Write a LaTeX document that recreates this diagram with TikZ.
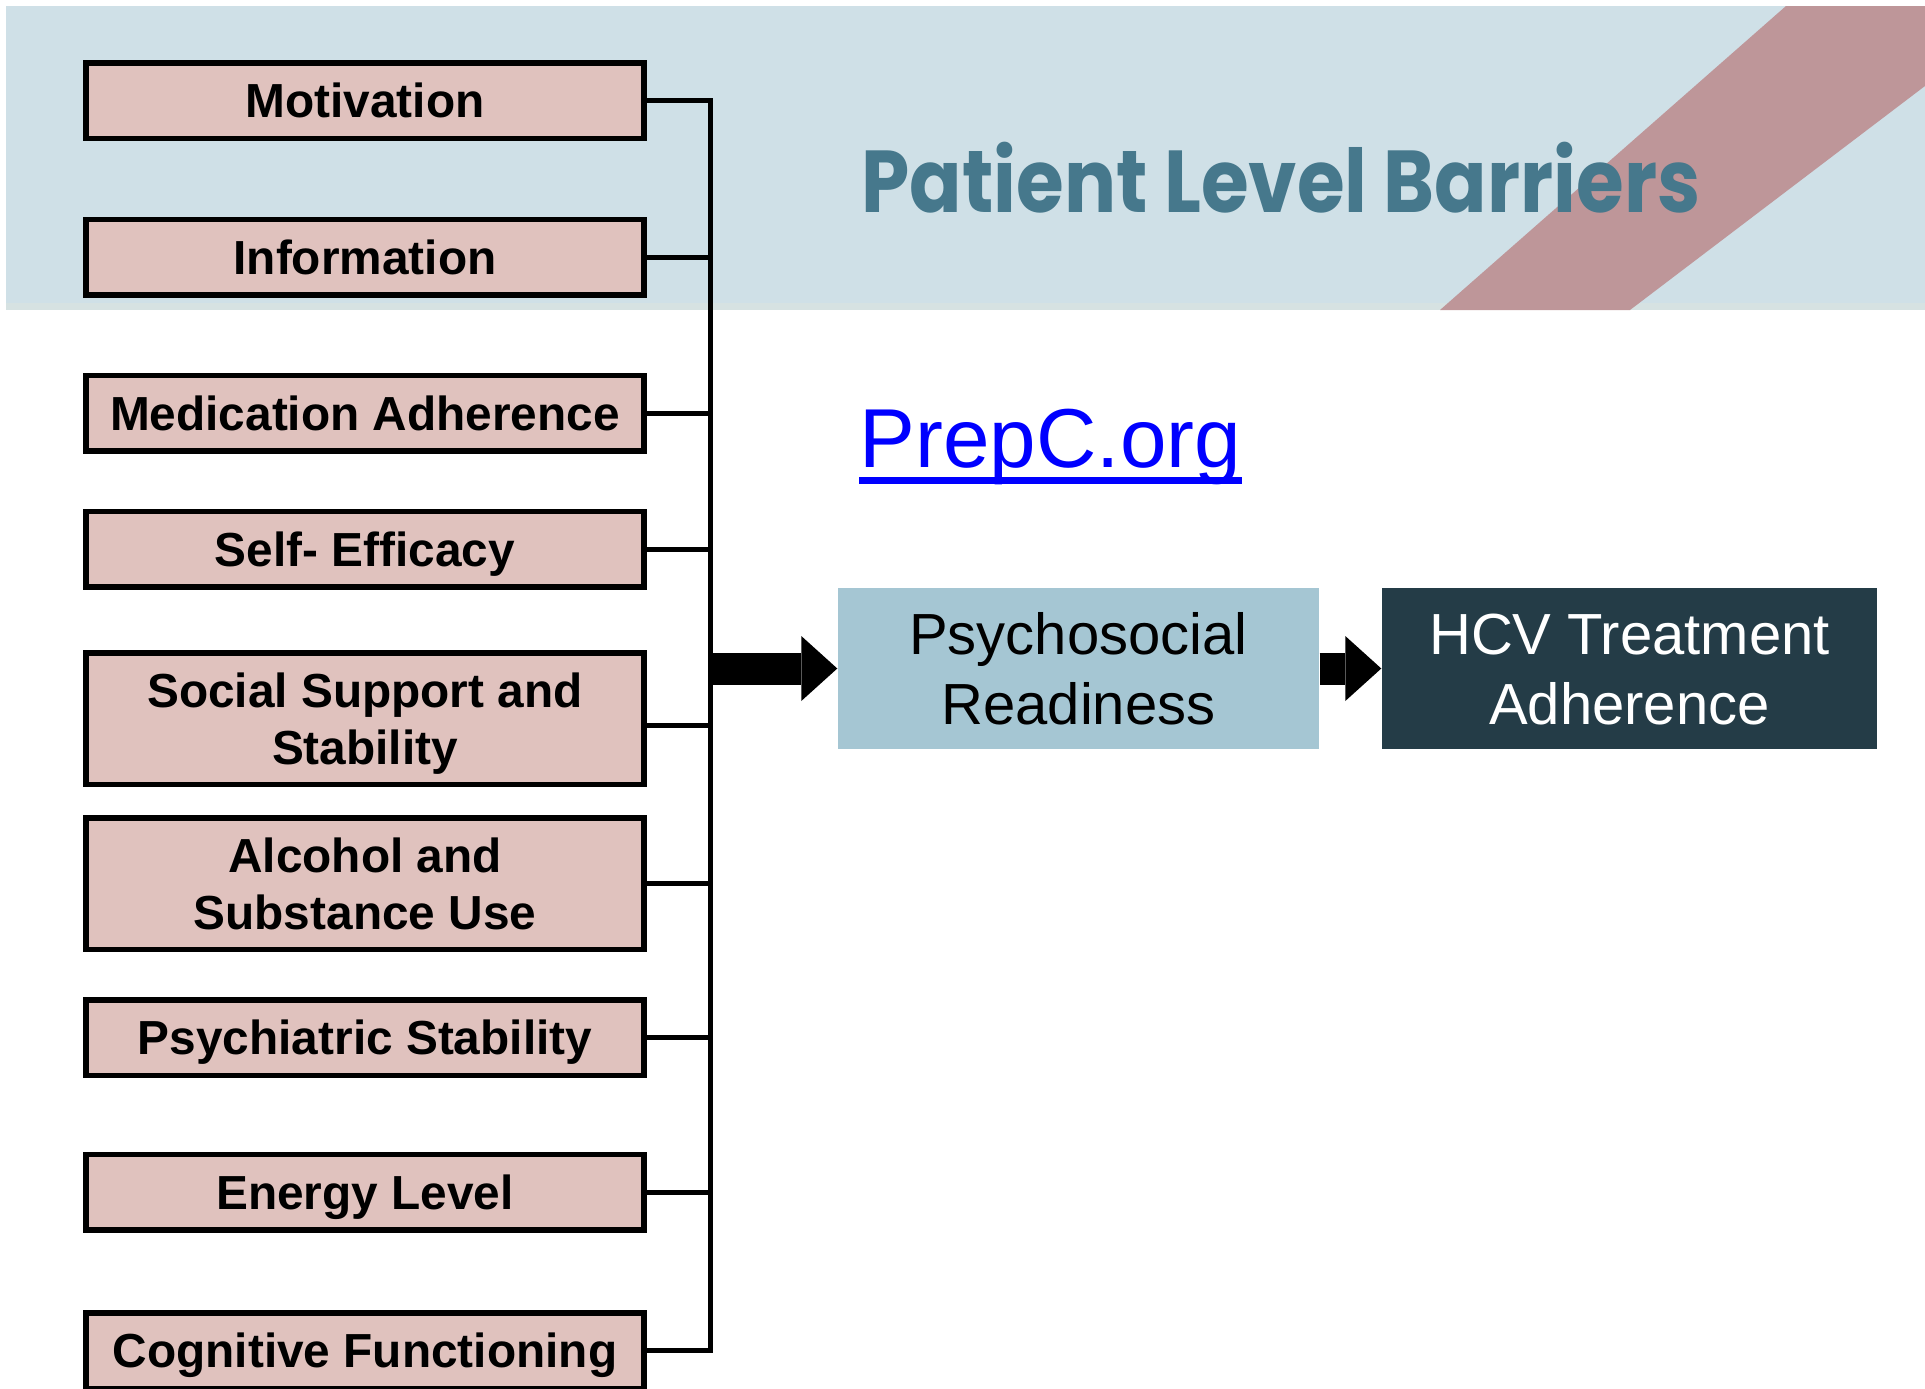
\documentclass[tikz,border=0pt]{standalone}
\usepackage{xcolor}
\usepackage{fontspec}
\setmainfont{Liberation Sans}
\newfontfamily\headfont{Poppins}
\usepackage{tikz}
\usetikzlibrary{shapes,arrows,positioning,calc,arrows.meta}

\definecolor{bannerblue}{RGB}{207,224,231}
\definecolor{bannerline}{RGB}{214,226,226}
\definecolor{stripered}{RGB}{190,150,153}
\definecolor{titleblue}{RGB}{70,120,140}
\definecolor{barrierfill}{RGB}{224,194,190}
\definecolor{readyfill}{RGB}{165,198,211}
\definecolor{hcvfill}{RGB}{36,60,71}
\definecolor{linkblue}{RGB}{0,0,255}

\begin{document}
\begin{tikzpicture}[x=0.1mm, y=-0.1mm,
    barrier/.style={draw, line width=0.55mm, fill=barrierfill, inner sep=0pt,
        minimum width=55.85mm, minimum height=7.55mm, align=center,
        text height=9.74pt, text depth=0pt,
        font=\fontsize{13.6}{16.2}\selectfont\bfseries},
    tallbarrier/.style={barrier, minimum height=13.15mm, text height=25.94pt},
    stage/.style={inner sep=0pt, minimum height=16.1mm, align=center,
        text height=31.7pt, text depth=0pt,
        font=\fontsize{16.5}{19.9}\selectfont},
    link/.style={line width=0.5mm},
    bigarrow/.style={line width=3.2mm, -{Triangle[length=3.6mm, width=6.5mm, line width=0pt]}}]
    \useasboundingbox (0,0) rectangle (1925,1389);

    % Header band with the slanted stripe
    \fill[bannerblue] (6,6) rectangle (1925,303);
    \fill[bannerline] (6,303) rectangle (1925,310);
    \fill[stripered] (1786,6) -- (1925,6) -- (1925,86) -- (1630,310) -- (1440,310) -- cycle;
    \node[anchor=base west, inner sep=0pt, text=titleblue,
          font=\headfont\fontsize{25}{30}\selectfont\bfseries] (title) at (861,212)
          {\scalebox{0.88}[1]{Patient Level Barriers}};

    % Web address
    \node[anchor=base west, inner sep=0pt, text=linkblue,
          font=\fontsize{23.8}{28}\selectfont] (prep) at (859,467) {PrepC.org};
    \draw[linkblue, line width=0.7mm] ([yshift=-1.3mm]prep.base west) -- ([yshift=-1.3mm]prep.base east);

    % Barriers
    \node[barrier] (mot) at (365,100.5) {Motivation};
    \node[barrier] (info) at (365,257) {Information};
    \node[barrier] (med) at (365,413) {Medication Adherence};
    \node[barrier] (self) at (365,549) {Self- Efficacy};
    \node[tallbarrier] (soc) at (365,718.5) {Social Support and\\Stability};
    \node[tallbarrier] (alc) at (365,883.5) {Alcohol and\\Substance Use};
    \node[barrier] (psy) at (365,1037.5) {Psychiatric Stability};
    \node[barrier] (energy) at (365,1192) {Energy Level};
    \node[barrier] (cog) at (365,1350.5) {Cognitive Functioning};

    % Outcome chain
    \node[stage, fill=readyfill, minimum width=48.1mm] (ready) at (1078.5,668.5) {Psychosocial\\Readiness};
    \node[stage, fill=hcvfill, text=white, minimum width=49.5mm] (hcv) at (1629.5,668.5) {HCV Treatment\\Adherence};

    % Collecting line
    \coordinate (trunk) at (710,0);
    \draw[link] (mot.east) -| (trunk |- cog.east) -- (cog.east);
    \draw[link] (info.east) -- (info.east -| trunk);
    \draw[link] (med.east) -- (med.east -| trunk);
    \draw[link] (self.east) -- (self.east -| trunk);
    \draw[link] ([yshift=-0.7mm]soc.east) -- ++(65.75,0);
    \draw[link] (alc.east) -- (alc.east -| trunk);
    \draw[link] (psy.east) -- (psy.east -| trunk);
    \draw[link] (energy.east) -- (energy.east -| trunk);

    % Arrows
    \draw[bigarrow] (ready.west -| trunk) -- (ready.west);
    \draw[bigarrow] (ready.east) -- (hcv.west);
\end{tikzpicture}
\end{document}
